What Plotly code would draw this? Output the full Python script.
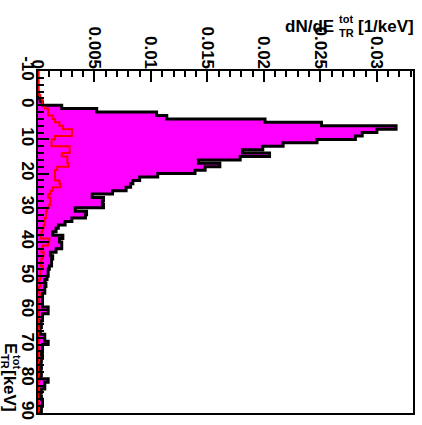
import plotly.graph_objects as go

# Energy bins (lower edges, keV), width 1 keV
bin_lo = list(range(-10, 90))
bin_width = 1

# dN/dE for the magenta (filled) histogram
magenta_vals = [
    0, 0, 0, 0, 0, 0, 0, 0, 0.0002, 0.0004,
    0.0021, 0.0052, 0.0105, 0.0114, 0.0201, 0.0251, 0.0317, 0.0300, 0.0287, 0.0281,
    0.0247, 0.0217, 0.0199, 0.0181, 0.0205, 0.0179, 0.0142, 0.0161, 0.0148, 0.0139,
    0.0106, 0.0090, 0.0084, 0.0082, 0.0078, 0.0066, 0.0048, 0.0058, 0.0057, 0.0058,
    0.0033, 0.0043, 0.0042, 0.0030, 0.0024, 0.0018, 0.0016, 0.0013, 0.0022, 0.0019,
    0.0021, 0.0021, 0.0016, 0.0011, 0.0013, 0.0012, 0.0012, 0.0010, 0.0009, 0.0009,
    0.0008, 0.0006, 0.0007, 0.0006, 0.0006, 0.0004, 0.0004, 0.0004, 0.0004, 0.0009,
    0.0009, 0.0004, 0.0004, 0.0002, 0.0003, 0.0002, 0.0002, 0.0006, 0.0006, 0.0009,
    0.0004, 0.0004, 0.0003, 0.0004, 0.0003, 0.0002, 0.0003, 0.0002, 0.0003, 0.0002,
    0.0009, 0.0006, 0.0006, 0.0003, 0.0002, 0.0003, 0.0004, 0.0004, 0.0003, 0.0003,
]

# dN/dE for the red (outline) histogram
red_vals = [
    0, 0, 0, 0, 0, 0, 0.0001, 0.0002, 0.0004, 0.0004,
    0.0006, 0.0009, 0.0009, 0.0013, 0.0015, 0.0019, 0.0022, 0.0030, 0.0030, 0.0015,
    0.0012, 0.0012, 0.0028, 0.0028, 0.0021, 0.0026, 0.0026, 0.0027, 0.0017, 0.0015,
    0.0015, 0.0015, 0.0019, 0.0020, 0.0013, 0.0011, 0.0009, 0.0011, 0.0011, 0.0010,
    0.0008, 0.0007, 0.0007, 0.0006, 0.0006, 0.0005, 0.0004, 0.0003, 0.0002, 0.0010,
    0.0009, 0.0004, 0.0003, 0.0005, 0.0004, 0.0003, 0.0002, 0.0004, 0.0002, 0.0002,
    0.0002, 0.0001, 0.0002, 0.0001, 0.0001, 0.0002, 0.0001, 0.0001, 0.0001, 0.0001,
    0.0001, 0.0001, 0, 0.0001, 0, 0.0001, 0, 0, 0.0001, 0,
    0, 0.0001, 0, 0, 0.0001, 0, 0, 0, 0.0001, 0,
    0.0001, 0, 0, 0.0001, 0, 0, 0, 0.0001, 0, 0,
]

value_ticks = [0, 0.005, 0.01, 0.015, 0.02, 0.025, 0.03]
value_tick_text = ["0", "0.005", "0.01", "0.015", "0.02", "0.025", "0.03"]
energy_ticks = list(range(-10, 100, 10))
energy_tick_text = [str(v) for v in energy_ticks]


def step_path(vals):
    xs = [0]
    ys = [bin_lo[0]]
    for lo, v in zip(bin_lo, vals):
        xs.append(v)
        ys.append(lo)
    xs.append(vals[-1])
    ys.append(bin_lo[-1] + bin_width)
    xs.append(0)
    ys.append(bin_lo[-1] + bin_width)
    return xs, ys


FONT = "Liberation Sans, Arial, Helvetica, sans-serif"

fig = go.Figure()
mx, my = step_path(magenta_vals)
fig.add_trace(go.Scatter(x=mx, y=my, mode="lines", line=dict(shape="vh", color="black", width=3),
                         fill="toself", fillcolor="#ff00ff", hoverinfo="skip", showlegend=False))
rx, ry = step_path(red_vals)
fig.add_trace(go.Scatter(x=rx, y=ry, mode="lines", line=dict(shape="vh", color="#ff0000", width=2),
                         hoverinfo="skip", showlegend=False))

W, H = 422, 425
L, R, T, B = 38, 9, 71, 12
pw, ph = W - L - R, H - T - B


def px2x(px):
    return (px - L) / pw


def py2y(py):
    return (H - B - py) / ph


tick_font = dict(family=FONT, size=17, color="black", weight="bold")

fig.update_layout(
    width=W, height=H,
    margin=dict(l=L, r=R, t=T, b=B, pad=0, autoexpand=False),
    paper_bgcolor="white", plot_bgcolor="white",
    xaxis=dict(
        side="top", range=[0, 0.0332], showgrid=False, zeroline=False, automargin=False,
        tickvals=value_ticks, ticktext=["<b>%s</b>" % t for t in value_tick_text], tickangle=90,
        ticks="inside", ticklen=11, tickwidth=2, tickcolor="black", ticklabelstandoff=-6,
        minor=dict(dtick=0.001, tick0=0, ticks="inside", ticklen=6, tickwidth=2, tickcolor="black", showgrid=False),
        showline=True, linecolor="black", linewidth=2, mirror=True,
        tickfont=tick_font, fixedrange=True,
    ),
    yaxis=dict(
        range=[90, -10], showgrid=False, zeroline=False, automargin=False,
        tickvals=energy_ticks, ticktext=["<b>%s</b>" % t for t in energy_tick_text], tickangle=90,
        ticks="inside", ticklen=11, tickwidth=2, tickcolor="black", ticklabelstandoff=-6,
        minor=dict(dtick=2, tick0=0, ticks="inside", ticklen=6, tickwidth=2, tickcolor="black", showgrid=False),
        showline=True, linecolor="black", linewidth=2, mirror=True,
        tickfont=tick_font, fixedrange=True,
    ),
)

title_font = dict(family=FONT, size=17, color="black", weight="bold")
small_font = dict(family=FONT, size=11, color="black", weight="bold")

ann = [
    # value axis title (horizontal, top right)
    dict(text="<b>dN/dE</b>", x=px2x(336), y=py2y(27), xanchor="right", yanchor="middle", font=title_font),
    dict(text="<b>tot</b>", x=px2x(337), y=py2y(19), xanchor="left", yanchor="middle", font=small_font),
    dict(text="<b>TR</b>", x=px2x(337), y=py2y(33), xanchor="left", yanchor="middle", font=small_font),
    dict(text="<b>[1/keV]</b>", x=px2x(356), y=py2y(27), xanchor="left", yanchor="middle", font=title_font),
    # energy axis title (vertical, bottom left)
    dict(text="<b>E</b>", x=px2x(11), y=py2y(348), xanchor="center", yanchor="middle", textangle=90, font=title_font),
    dict(text="<b>tot</b>", x=px2x(17), y=py2y(362), xanchor="center", yanchor="middle", textangle=90, font=small_font),
    dict(text="<b>TR</b>", x=px2x(5), y=py2y(361), xanchor="center", yanchor="middle", textangle=90, font=small_font),
    dict(text="<b>[keV]</b>", x=px2x(10), y=py2y(391), xanchor="center", yanchor="middle", textangle=90, font=title_font),
]
for a in ann:
    a.update(xref="paper", yref="paper", showarrow=False)
fig.update_layout(annotations=ann)

fig.write_html("out.html", config={"displayModeBar": False},
               post_script="document.body.style.margin='0';document.body.style.overflow='hidden';")
